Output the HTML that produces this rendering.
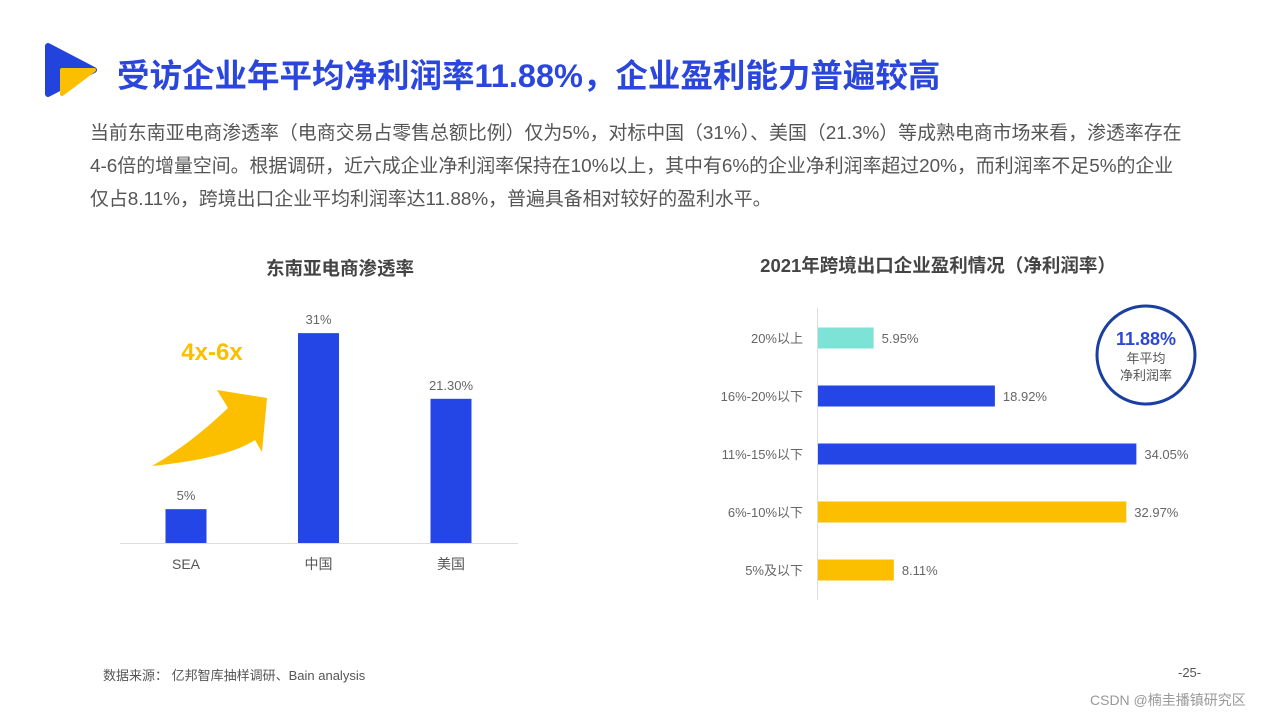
<!DOCTYPE html>
<html><head><meta charset="utf-8">
<style>
body{margin:0;width:1280px;height:720px;background:#fff;overflow:hidden;font-family:"Liberation Sans","Noto Sans CJK SC",sans-serif;position:relative}
.abs{position:absolute;white-space:nowrap}
</style></head><body>
<svg class="abs" style="left:44px;top:42px" width="54" height="56">
<path d="M4 4 L50 28 L4 52 Z" fill="#2244dd" stroke="#2244dd" stroke-width="6" stroke-linejoin="round"/>
<path d="M18 28 L50 28 L18 52 Z" fill="#fcbf00" stroke="#fcbf00" stroke-width="4" stroke-linejoin="round"/>
</svg>
<div class="abs" style="left:117px;top:50px;font-size:32.5px;font-weight:bold;color:#2a46dc">受访企业年平均净利润率11.88%，企业盈利能力普遍较高</div>
<div class="abs" style="left:90px;top:117px;font-size:18.9px;line-height:33px;color:#555">当前东南亚电商渗透率（电商交易占零售总额比例）仅为5%，对标中国（31%）、美国（21.3%）等成熟电商市场来看，渗透率存在<br>4-6倍的增量空间。根据调研，近六成企业净利润率保持在10%以上，其中有6%的企业净利润率超过20%，而利润率不足5%的企业<br>仅占8.11%，跨境出口企业平均利润率达11.88%，普遍具备相对较好的盈利水平。</div>
<svg class="abs" style="left:0;top:0" width="1280" height="720" id="charts">
<text x="340" y="275" text-anchor="middle" font-size="18.5" font-weight="bold" fill="#444">东南亚电商渗透率</text>
<text x="938" y="272" text-anchor="middle" font-size="18.5" font-weight="bold" fill="#444">2021年跨境出口企业盈利情况（净利润率）</text>
<line x1="120" y1="543.5" x2="518" y2="543.5" stroke="#ddd"/>
<line x1="817.5" y1="308" x2="817.5" y2="600" stroke="#ddd"/>
<path d="M152 466 C190 462 232 455 255 440 L262 452 L267 398 L217 390 L228 408 C205 430 180 450 152 466 Z" fill="#fcbf00"/>
<text x="212" y="360" text-anchor="middle" font-size="24" font-weight="bold" fill="#fcbf00">4x-6x</text>
<g id="left"></g><g id="right"></g>
<circle cx="1146" cy="355" r="49" fill="#fff" stroke="#1a3fa0" stroke-width="3"/>
<text x="1146" y="345" text-anchor="middle" font-size="18" font-weight="bold" fill="#2a46dc">11.88%</text>
<text x="1146" y="363" text-anchor="middle" font-size="13" fill="#555">年平均</text>
<text x="1146" y="380" text-anchor="middle" font-size="13" fill="#555">净利润率</text>
</svg>
<div class="abs" style="left:103px;top:665px;font-size:13px;color:#555">数据来源： 亿邦智库抽样调研、Bain analysis</div>
<div class="abs" style="left:1178px;top:665px;font-size:13px;color:#555">-25-</div>
<div class="abs" style="left:1090px;top:690px;font-size:14px;color:#999">CSDN @楠圭播镇研究区</div>
<script>
const leftCats=["SEA","中国","美国"];
const leftVals=[5,31,21.3];
const leftLabels=["5%","31%","21.30%"];
const rightCats=["20%以上","16%-20%以下","11%-15%以下","6%-10%以下","5%及以下"];
const rightVals=[5.95,18.92,34.05,32.97,8.11];
const rightColors=["#7de3d6","#2446e6","#2446e6","#fcbf00","#fcbf00"];
const NS="http://www.w3.org/2000/svg";
function mk(t,a,p){const e=document.createElementNS(NS,t);for(const k in a)e.setAttribute(k,a[k]);p.appendChild(e);return e;}
const L=document.getElementById('left');
const ly=v=>543-v*6.77, lx=i=>186+i*132.5;
leftCats.forEach((c,i)=>{
 const r=mk('rect',{x:lx(i)-20.5,y:ly(leftVals[i]),width:41,height:543-ly(leftVals[i]),fill:"#2446e6"},L);
 
 
 const t=mk('text',{x:lx(i),y:ly(leftVals[i])-9,'text-anchor':'middle','font-size':13,fill:'#666'},L);t.textContent=leftLabels[i];
 
 
 const c2=mk('text',{x:lx(i),y:569,'text-anchor':'middle','font-size':14,fill:'#555'},L);c2.textContent=c;
 
 
});
const R=document.getElementById('right');
const rx=v=>818+v*9.35, ry=i=>338+i*58;
rightCats.forEach((c,i)=>{
 const r=mk('rect',{x:818,y:ry(i)-10.5,width:rx(rightVals[i])-818,height:21,fill:rightColors[i]},R);
 
 
 const t=mk('text',{x:rx(rightVals[i])+8,y:ry(i)+5,'font-size':13,fill:'#666'},R);t.textContent=rightVals[i].toFixed(2)+'%';
 
 
 const c2=mk('text',{x:803,y:ry(i)+5,'text-anchor':'end','font-size':13,fill:'#666'},R);c2.textContent=c;
 
 
});
</script>
</body></html>
